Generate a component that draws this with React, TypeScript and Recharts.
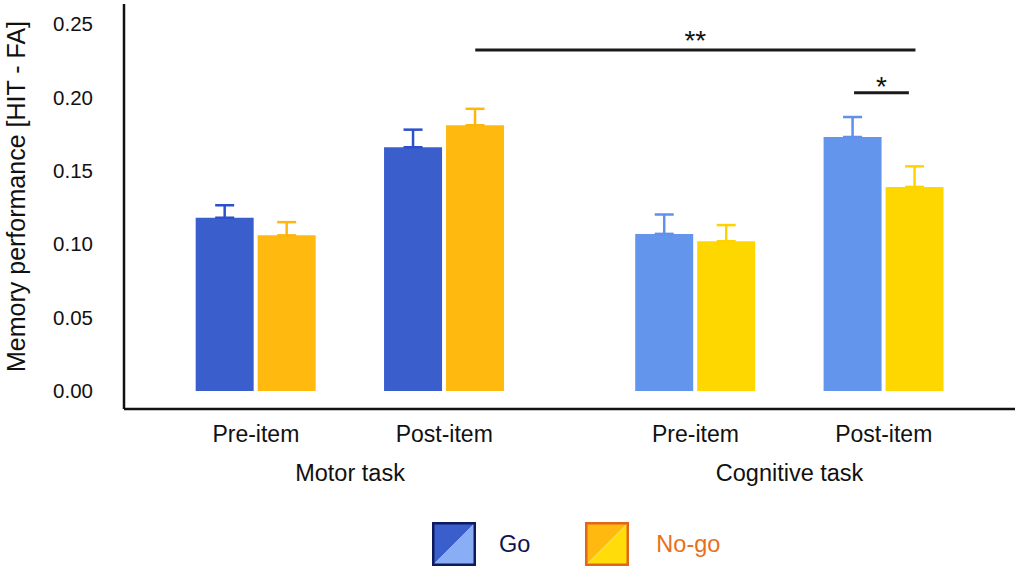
import React from "react";
import { BarChart, Bar, XAxis, YAxis, ErrorBar, ReferenceLine, Legend, Label } from "recharts";

// ---------- data ----------
const itemLabels = ["Pre-item", "Post-item"];
const taskLabels = ["Motor task", "Cognitive task"];
const conditionItem = ["Pre-item", "Post-item", "Pre-item", "Post-item"];
const conditionTask = ["Motor task", "Motor task", "Cognitive task", "Cognitive task"];
const goValues = [0.118, 0.166, 0.107, 0.173];
const goErrors = [0.0085, 0.012, 0.0132, 0.0136];
const noGoValues = [0.106, 0.181, 0.102, 0.139];
const noGoErrors = [0.009, 0.0112, 0.011, 0.014];
const yTicks = [0, 0.05, 0.1, 0.15, 0.2, 0.25];
const seriesNames = ["Go", "No-go"];
const sigLabels = ["**", "*"];
const sigLevels = [0.2323, 0.2032];
const sigStarts = [3.494, 9.527];
const sigEnds = [10.505, 10.4];

// ---------- layout / style ----------
const W = 1021;
const H = 575;
const ITEM_STEP = 3;
const TASK_STEP = 7;
const X_DOMAIN: [number, number] = [-2.1, 12.09];
const Y_DOMAIN: [number, number] = [-0.0123, 0.2636];
const BAR_SIZE = 58;
const BAR_GAP = 4;
const FONT = '"Liberation Sans", Arial, Helvetica, sans-serif';

const motorGo = { fill: "#3A5FCD", err: "#2C4FCB" };
const motorNoGo = { fill: "#FFB90F", err: "#FFB50F" };
const cogGo = { fill: "#6495ED", err: "#5E90EC" };
const cogNoGo = { fill: "#FFD700", err: "#FFD300" };

const legendStyles = [
  { dark: "#3A5FCD", light: "#8AAEF5", border: "#0D1A5C", text: "#0D1450" },
  { dark: "#FFB90F", light: "#FFDC0A", border: "#E2651C", text: "#E8701C" },
];

// ---------- table ----------
const rows = conditionItem.map((item, i) => {
  const taskIdx = taskLabels.indexOf(conditionTask[i]);
  const itemIdx = itemLabels.indexOf(item);
  const motor = taskIdx === 0;
  return {
    slot: itemIdx * ITEM_STEP + taskIdx * TASK_STEP,
    item,
    task: conditionTask[i],
    goMotor: motor ? goValues[i] : null,
    goCog: motor ? null : goValues[i],
    noGoMotor: motor ? noGoValues[i] : null,
    noGoCog: motor ? null : noGoValues[i],
    goMotorErr: motor ? [0, goErrors[i]] : null,
    goCogErr: motor ? null : [0, goErrors[i]],
    noGoMotorErr: motor ? [0, noGoErrors[i]] : null,
    noGoCogErr: motor ? null : [0, noGoErrors[i]],
  };
});

const itemTicks = rows.map((r) => r.slot);
const taskTicks = taskLabels.map((t) => {
  const s = rows.filter((r) => r.task === t).map((r) => r.slot);
  return s.reduce((a, b) => a + b, 0) / s.length;
});

const itemFormatter = (v: number) => {
  const r = rows.find((row) => row.slot === v);
  return r ? r.item : "";
};
const taskFormatter = (v: number) => {
  const i = taskTicks.indexOf(v);
  return i >= 0 ? taskLabels[i] : "";
};

function LegendSquare({ s }: { s: (typeof legendStyles)[number] }) {
  return (
    <svg width={44} height={44} style={{ display: "block" }}>
      <polygon points="0,0 44,0 0,44" fill={s.dark} />
      <polygon points="44,0 44,44 0,44" fill={s.light} />
      <rect x={1.25} y={1.25} width={41.5} height={41.5} fill="none" stroke={s.border} strokeWidth={2.5} />
    </svg>
  );
}

function LegendContent() {
  return (
    <div
      style={{
        width: W,
        height: 81,
        boxSizing: "border-box",
        paddingTop: 28,
        paddingLeft: 432,
        display: "flex",
        alignItems: "flex-start",
        fontFamily: FONT,
        fontSize: 23.5,
      }}
    >
      {seriesNames.map((name, i) => (
        <div
          key={name}
          style={{ display: "flex", alignItems: "center", marginLeft: i === 0 ? 0 : 55 }}
        >
          <LegendSquare s={legendStyles[i]} />
          <span style={{ marginLeft: i === 0 ? 23 : 27, color: legendStyles[i].text, lineHeight: "44px" }}>
            {name}
          </span>
        </div>
      ))}
    </div>
  );
}

function YTitle(props: any) {
  const vb = props.viewBox || { x: 0, y: 4, width: 124, height: 405 };
  const x = vb.x + 25;
  const y = vb.y + vb.height / 2 - 10;
  return (
    <text
      x={x}
      y={y}
      transform={`rotate(-90 ${x} ${y})`}
      textAnchor="middle"
      fontFamily={FONT}
      fontSize={25}
      fill="#111"
    >
      Memory performance [HIT - FA]
    </text>
  );
}

export default function App() {
  const tickStyle = { fontFamily: FONT, fill: "#111" };
  return (
    <div style={{ position: "absolute", left: 0, top: 0, width: W, height: H, background: "#fff" }}>
      <BarChart
        width={W}
        height={H}
        data={rows}
        margin={{ top: 4, right: 6, left: 0, bottom: 0 }}
        barGap={BAR_GAP}
        barSize={BAR_SIZE}
      >
        <XAxis
          dataKey="slot"
          type="number"
          domain={X_DOMAIN}
          ticks={itemTicks}
          tickFormatter={itemFormatter}
          interval={0}
          allowDataOverflow
          height={45}
          tickLine={false}
          tickSize={6}
          tickMargin={11}
          axisLine={{ stroke: "#111", strokeWidth: 2.5 }}
          tick={{ ...tickStyle, fontSize: 23 }}
        />
        <XAxis
          xAxisId="task"
          dataKey="slot"
          type="number"
          domain={X_DOMAIN}
          ticks={taskTicks}
          tickFormatter={taskFormatter}
          interval={0}
          allowDataOverflow
          height={40}
          tickLine={false}
          axisLine={false}
          tickSize={0}
          tickMargin={10}
          tick={{ ...tickStyle, fontSize: 23.5 }}
        />
        <YAxis
          type="number"
          domain={Y_DOMAIN}
          ticks={yTicks}
          interval={0}
          allowDataOverflow
          width={124}
          tickLine={false}
          tickSize={6}
          tickMargin={25}
          tickFormatter={(v: number) => v.toFixed(2)}
          axisLine={{ stroke: "#111", strokeWidth: 2.5 }}
          tick={{ ...tickStyle, fontSize: 20.5 }}
        >
          <Label content={YTitle} />
        </YAxis>
        <Legend verticalAlign="bottom" content={LegendContent} />

        <Bar dataKey="goMotor" stackId="go" name="Go" fill={motorGo.fill} isAnimationActive={false}>
          <ErrorBar dataKey="goMotorErr" width={9.5} stroke={motorGo.err} strokeWidth={2.5} direction="y" />
        </Bar>
        <Bar dataKey="goCog" stackId="go" name="Go" fill={cogGo.fill} isAnimationActive={false}>
          <ErrorBar dataKey="goCogErr" width={9.5} stroke={cogGo.err} strokeWidth={2.5} direction="y" />
        </Bar>
        <Bar dataKey="noGoMotor" stackId="nogo" name="No-go" fill={motorNoGo.fill} isAnimationActive={false}>
          <ErrorBar dataKey="noGoMotorErr" width={9.5} stroke={motorNoGo.err} strokeWidth={2.5} direction="y" />
        </Bar>
        <Bar dataKey="noGoCog" stackId="nogo" name="No-go" fill={cogNoGo.fill} isAnimationActive={false}>
          <ErrorBar dataKey="noGoCogErr" width={9.5} stroke={cogNoGo.err} strokeWidth={2.5} direction="y" />
        </Bar>

        {sigLabels.map((lab, i) => (
          <ReferenceLine
            key={lab}
            segment={[
              { x: sigStarts[i], y: sigLevels[i] },
              { x: sigEnds[i], y: sigLevels[i] },
            ]}
            stroke="#1a1a1a"
            strokeWidth={3}
            label={{ value: lab, position: "top", offset: i === 0 ? 0 : -3, fill: "#111", fontSize: 28, fontFamily: FONT }}
          />
        ))}
      </BarChart>
    </div>
  );
}
